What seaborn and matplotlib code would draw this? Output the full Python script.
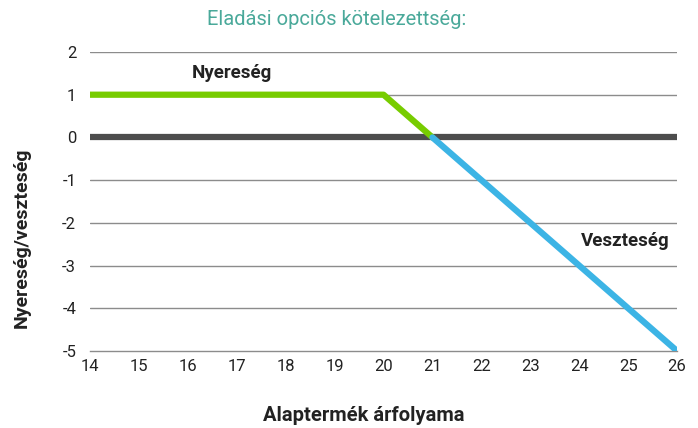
import numpy as np
import pandas as pd
import seaborn as sns
import matplotlib.pyplot as plt

# payoff of the written put
gain_x = [14, 20, 21]
gain_y = [1, 1, 0]
loss_x = [21, 26]
loss_y = [0, -5]
x_ticks = list(range(14, 27))
y_ticks = list(range(-5, 3))

sns.set_style("white")
plt.rcParams['font.family'] = ['Roboto', 'DejaVu Sans']
plt.rcParams['axes.unicode_minus'] = False

fig = plt.figure(figsize=(6.98, 4.28), dpi=100)
ax = fig.add_axes([0.129, 0.18, 0.841, 0.6985])

for y in y_ticks[1:]:
    if y != 0:
        ax.axhline(y, color='#8c8c8c', lw=1.0, zorder=1)
ax.axhline(0, color='#4d4d4d', lw=4.5, zorder=2)

gain = pd.DataFrame({'x': gain_x, 'y': gain_y})
loss = pd.DataFrame({'x': loss_x, 'y': loss_y})
sns.lineplot(data=gain, x='x', y='y', ax=ax, color='#77cc00', lw=4.5, sort=False, zorder=3)
sns.lineplot(data=loss, x='x', y='y', ax=ax, color='#3cb4e5', lw=4.5, sort=False, zorder=3)

ax.set_xlim(14, 26)
ax.set_ylim(-5, 2)
ax.set_xticks(x_ticks)
ax.set_yticks(y_ticks)
ax.tick_params(axis='x', direction='in', length=7, width=1, color='#8c8c8c',
               labelsize=12, pad=6, labelcolor='#222222')
ax.tick_params(axis='y', length=0, labelsize=12, pad=10, labelcolor='#222222')
for s in ['top', 'right', 'left']:
    ax.spines[s].set_visible(False)
ax.spines['bottom'].set_color('#8c8c8c')
ax.spines['bottom'].set_linewidth(1.0)
ax.patch.set_alpha(0)
ax.set_xlabel(None)
ax.set_ylabel(None)

ax.text(16.9, 1.5, 'Nyereség', ha='center', va='center', fontsize=13.5, fontweight='bold', color='#222222')
ax.text(24.95, -2.42, 'Veszteség', ha='center', va='center', fontsize=13.5, fontweight='bold', color='#222222')

ax.text(0.467, -0.217, 'Alaptermék árfolyama', transform=ax.transAxes, ha='center', va='center',
        fontsize=14.5, fontweight='bold', color='#222222')
ax.text(-0.116, 0.378, 'Nyereség/veszteség', transform=ax.transAxes, ha='center', va='center',
        rotation=90, fontsize=14, fontweight='bold', color='#222222')
fig.text(0.482, 0.955, 'Eladási opciós kötelezettség:', ha='center', va='center',
         fontsize=14.5, color='#4aa99a')

fig.savefig('out.png', dpi=100)
